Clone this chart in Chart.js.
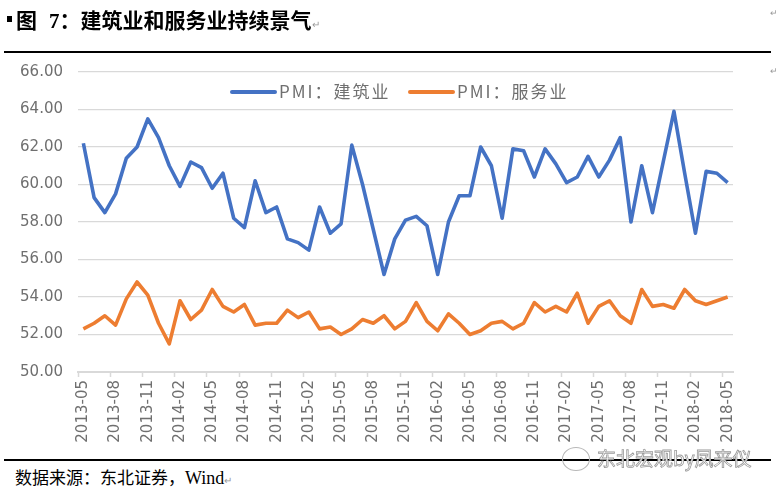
<!DOCTYPE html>
<html>
<head>
<meta charset="utf-8">
<script src="https://cdn.jsdelivr.net/npm/chart.js@4"></script>
<style>
  html, body { margin: 0; padding: 0; background: #fff; }
  body { width: 777px; height: 490px; position: relative; overflow: hidden; font-family: "Noto Sans CJK SC", sans-serif; }
  #wrap { position: absolute; left: 0; top: 0; width: 777px; height: 455px; }
  .title { position: absolute; left: 7px; top: 4px; font-size: 21px; font-weight: bold; color: #000; white-space: nowrap; }
  .title .sq { display: inline-block; width: 5px; height: 6px; background: #000; vertical-align: 6px; margin-right: 4px; }
  .title .num { font-family: "Liberation Serif", serif; margin-left: 12px; }
  .mark { font-size: 10px; font-weight: normal; color: #999; }
  .rmark { position: absolute; left: 770px; font-size: 9px; color: #999; }
  .rule { position: absolute; left: 4px; width: 767px; height: 1.5px; background: #000; }
  .foot { position: absolute; left: 15px; top: 464px; font-size: 17px; color: #000; white-space: nowrap; }
  .foot .en { font-family: "Liberation Serif", serif; font-size: 18px; }
  .wm { position: absolute; left: 597px; top: 444px; font-size: 19px; color: #fff; -webkit-text-stroke: 0.8px #9a9a9a; white-space: nowrap; }
  .icon { position: absolute; left: 562px; top: 447px; width: 26px; height: 22px; border: 1px solid #b8b8b8; border-radius: 50%; }
</style>
</head>
<body>
<div id="wrap"><canvas id="chart"></canvas></div>
<div class="title"><span class="sq"></span>图<span class="num">7</span>：建筑业和服务业持续景气<span class="mark">↵</span></div>
<div class="rmark" style="top:6px">↵</div>
<div class="rmark" style="top:64px">↵</div>
<div class="rule" style="top:51px"></div>
<div class="rule" style="top:459px"></div>
<div class="foot">数据来源：东北证券，<span class="en">Wind</span><span class="mark">↵</span></div>
<div class="icon"></div>
<div class="wm">东北宏观by凤来仪</div>
<script>
// 月份（2013-05 至 2018-05）
const months = [
  '2013-05','2013-06','2013-07','2013-08','2013-09','2013-10','2013-11','2013-12',
  '2014-01','2014-02','2014-03','2014-04','2014-05','2014-06','2014-07','2014-08','2014-09','2014-10','2014-11','2014-12',
  '2015-01','2015-02','2015-03','2015-04','2015-05','2015-06','2015-07','2015-08','2015-09','2015-10','2015-11','2015-12',
  '2016-01','2016-02','2016-03','2016-04','2016-05','2016-06','2016-07','2016-08','2016-09','2016-10','2016-11','2016-12',
  '2017-01','2017-02','2017-03','2017-04','2017-05','2017-06','2017-07','2017-08','2017-09','2017-10','2017-11','2017-12',
  '2018-01','2018-02','2018-03','2018-04','2018-05'
]

// PMI：建筑业
const construction = [
  62.2, 59.3, 58.5, 59.5, 61.4, 62.0, 63.5, 62.5,
  61.0, 59.9, 61.2, 60.9, 59.8, 60.6, 58.2, 57.7, 60.2, 58.5, 58.8, 57.1,
  56.9, 56.5, 58.8, 57.4, 57.9, 62.1, 60.0, 57.6, 55.2, 57.1, 58.1, 58.3,
  57.8, 55.2, 58.0, 59.4, 59.4, 62.0, 61.0, 58.2, 61.9, 61.8, 60.4, 61.9,
  61.1, 60.1, 60.4, 61.5, 60.4, 61.3, 62.5, 58.0, 61.0, 58.5, 61.2, 63.9,
  60.6, 57.4, 60.7, 60.6, 60.1
]

// PMI：服务业
const services = [
  52.3, 52.6, 53.0, 52.5, 53.9, 54.8, 54.1, 52.6,
  51.5, 53.8, 52.8, 53.3, 54.4, 53.5, 53.2, 53.6, 52.5, 52.6, 52.6, 53.3,
  52.9, 53.2, 52.3, 52.4, 52.0, 52.3, 52.8, 52.6, 53.0, 52.3, 52.7, 53.7,
  52.7, 52.2, 53.1, 52.6, 52.0, 52.2, 52.6, 52.7, 52.3, 52.6, 53.7, 53.2,
  53.5, 53.2, 54.2, 52.6, 53.5, 53.8, 53.0, 52.6, 54.4, 53.5, 53.6, 53.4,
  54.4, 53.8, 53.6, 53.8, 54.0
]

const seriesNames = ['PMI：建筑业', 'PMI：服务业']
const seriesColors = ['#4472C4', '#ED7D31']

const axisColor = '#6f6f6f'
const gridColor = '#d9d9d9'
const tickFont = { family: 'DejaVu Sans', size: 15 }

// 图例画在绘图区内部
const innerLegend = {
  id: 'innerLegend',
  afterDraw(chart) {
    const ctx = chart.ctx
    const pos = [232, 410]
    const y = 92
    ctx.save()
    chart.data.datasets.forEach((ds, i) => {
      const x = pos[i]
      ctx.strokeStyle = ds.borderColor
      ctx.lineWidth = 4
      ctx.lineCap = 'round'
      ctx.beginPath()
      ctx.moveTo(x, y)
      ctx.lineTo(x + 43, y)
      ctx.stroke()
      ctx.fillStyle = axisColor
      ctx.font = '17px "Noto Sans CJK SC"'
      ctx.letterSpacing = '2px'
      ctx.textBaseline = 'middle'
      ctx.fillText(ds.label, x + 47, y)
    })
    ctx.restore()
  }
}

new Chart(document.getElementById('chart'), {
  type: 'line',
  data: {
    labels: months,
    datasets: [
      { label: seriesNames[0], data: construction, borderColor: seriesColors[0], backgroundColor: seriesColors[0] },
      { label: seriesNames[1], data: services, borderColor: seriesColors[1], backgroundColor: seriesColors[1] }
    ]
  },
  options: {
    responsive: true,
    maintainAspectRatio: false,
    animation: false,
    layout: { padding: { top: 72, right: 44, left: 0, bottom: 0 } },
    elements: {
      line: { borderWidth: 3.6, tension: 0, borderJoinStyle: 'round' },
      point: { radius: 0 }
    },
    plugins: {
      legend: { display: false },
      tooltip: { enabled: false }
    },
    scales: {
      x: {
        offset: true,
        afterFit: s => { s.height = 83 },
        border: { color: gridColor, width: 2 },
        grid: {
          offset: true,
          drawOnChartArea: false,
          tickLength: 5,
          tickWidth: 1.5,
          tickColor: c => (c.index % 3 === 0 ? gridColor : 'rgba(0,0,0,0)')
        },
        ticks: {
          autoSkip: false,
          maxRotation: 90,
          minRotation: 90,
          padding: 3,
          color: axisColor,
          font: tickFont,
          callback: (v, i) => (i % 3 === 0 ? months[i] : '')
        }
      },
      y: {
        min: 50,
        max: 66,
        afterFit: s => { s.width = 78 },
        border: { display: false },
        grid: { color: gridColor, lineWidth: 1.2, drawTicks: false },
        ticks: {
          stepSize: 2,
          padding: 15,
          color: axisColor,
          font: tickFont,
          callback: v => v.toFixed(2)
        }
      }
    }
  },
  plugins: [innerLegend]
})
</script>
</body>
</html>
